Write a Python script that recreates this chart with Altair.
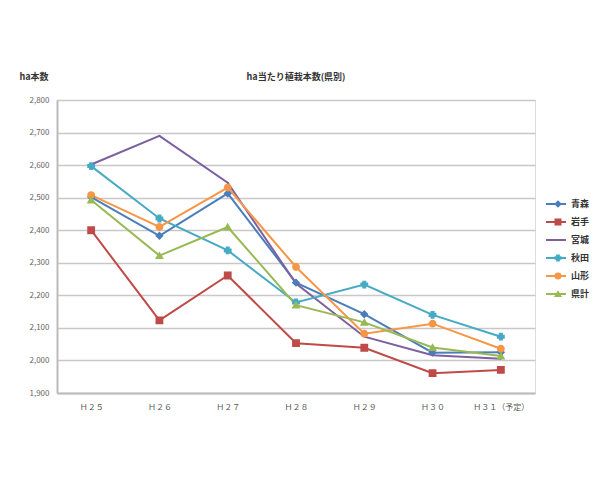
import altair as alt
import pandas as pd

years = ["Ｈ２５", "Ｈ２６", "Ｈ２７", "Ｈ２８", "Ｈ２９", "Ｈ３０", "Ｈ３１（予定）"]
series = ["青森", "岩手", "宮城", "秋田", "山形", "県計"]
aomori = [2502, 2383, 2513, 2239, 2142, 2024, 2025]
iwate = [2400, 2123, 2261, 2053, 2039, 1961, 1971]
miyagi = [2602, 2690, 2546, 2236, 2073, 2016, 2005]
akita = [2597, 2436, 2338, 2178, 2233, 2140, 2073]
yamagata = [2508, 2410, 2531, 2287, 2082, 2113, 2036]
kenkei = [2493, 2322, 2410, 2170, 2117, 2040, 2014]
colors = ["#4A7EBB", "#BE4B48", "#7D60A0", "#46AAC5", "#F79646", "#98B954"]
shapes = ["diamond", "square", "M-0.3,0L0.3,0", "cross", "circle", "triangle-up"]

markers = [s + "・" for s in series]
values = [aomori, iwate, miyagi, akita, yamagata, kenkei]
rows = []
for s, m, vals in zip(series, markers, values):
    for y, v in zip(years, vals):
        rows.append({"year": y, "series": s, "marker": m, "value": v})
df = pd.DataFrame(rows)

FONT = "Noto Sans CJK JP"

x = alt.X("year:N", sort=years, title=None,
          scale=alt.Scale(type="point", padding=0.5),
          axis=alt.Axis(labelAngle=0, labelFontSize=8, labelColor="#555", ticks=False,
                        domainColor="#bbb", domainWidth=2, labelPadding=10, labelFont=FONT))
y = alt.Y("value:Q", title="ha本数",
          scale=alt.Scale(domain=[1900, 2800], nice=False, zero=False),
          axis=alt.Axis(values=list(range(1900, 2801, 100)), format=",d", labelFontSize=8,
                        labelColor="#666", ticks=False, domainColor="#bbb", domainWidth=2,
                        gridColor="#c8c8c8", gridWidth=1.5, labelPadding=8, labelFont=FONT,
                        titleAngle=0, titleAlign="left", titleBaseline="middle",
                        titleX=-38, titleY=-24, titleFont=FONT, titleFontSize=9,
                        titleFontWeight="bold", titleColor="#333"))

line_legend = alt.Legend(title=None, orient="none", legendX=488, legendY=98,
                         labelFontSize=9, labelFont=FONT, labelFontWeight="bold",
                         labelColor="#333", rowPadding=6, clipHeight=12, symbolType="stroke",
                         symbolSize=400, symbolStrokeWidth=2, labelOffset=4)
mark_legend = alt.Legend(title=None, orient="none", legendX=496.5, legendY=98,
                         labelFontSize=9, labelFont=FONT, labelFontWeight="bold",
                         labelOpacity=0, rowPadding=6, clipHeight=12, symbolSize=30,
                         symbolStrokeWidth=1.5, labelOffset=4)

color = alt.Color("series:N", sort=series, scale=alt.Scale(domain=series, range=colors),
                  legend=line_legend)
fill = alt.Fill("marker:N", sort=markers, scale=alt.Scale(domain=markers, range=colors),
                legend=mark_legend)
stroke = alt.Stroke("marker:N", sort=markers, scale=alt.Scale(domain=markers, range=colors),
                    legend=mark_legend)
shape = alt.Shape("marker:N", sort=markers, scale=alt.Scale(domain=markers, range=shapes),
                  legend=mark_legend)

lines = alt.Chart(df).mark_line(strokeWidth=2).encode(x=x, y=y, color=color, detail="series:N")
points = alt.Chart(df).mark_point(filled=True, size=40, strokeWidth=1.5, opacity=1).encode(
    x=x, y=y, fill=fill, stroke=stroke, shape=shape)

chart = alt.layer(lines, points).properties(
    width=478, height=293,
    title=alt.TitleParams("ha当たり植栽本数(県別)", font=FONT, fontSize=9, fontWeight="bold",
                          color="#333", offset=-10),
    autosize=alt.AutoSizeParams(type="none"),
    padding={"left": 57, "top": 100, "right": 62, "bottom": 90},
).configure_view(stroke=None).configure(background="white")

chart.save("out.html", embed_options={"renderer": "svg", "actions": False})
